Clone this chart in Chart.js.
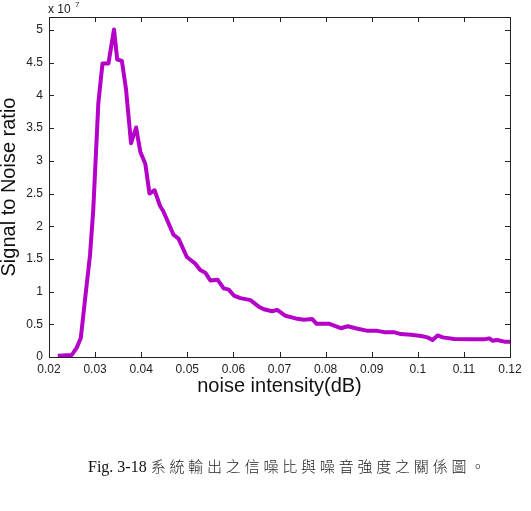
<!DOCTYPE html>
<html>
<head>
<meta charset="utf-8">
<script src="https://cdn.jsdelivr.net/npm/chart.js@4.4.1/dist/chart.umd.min.js"></script>
<style>
  html, body { margin: 0; padding: 0; background: #ffffff; }
  #wrap { position: relative; width: 531px; height: 511px; }
  #c { position: absolute; left: 0; top: 0; }
  #caption { position: absolute; left: 88px; top: 455px;
             font-family: "Liberation Serif", "Noto Sans CJK TC", serif; font-size: 16px; color: #111; white-space: nowrap; }
  #caption .cjk { font-family: "Noto Sans CJK TC", sans-serif; font-size: 15px; letter-spacing: 3.8px; font-weight: 300; color: #222; }
</style>
</head>
<body>
<div id="wrap">
  <canvas id="c" width="531" height="511"></canvas>
  <div id="caption">Fig. 3-18 <span class="cjk">系統輸出之信噪比與噪音強度之關係圖。</span></div>
</div>
<script>
// noise intensity (dB)
const noiseIntensity = [0.0219, 0.0249, 0.0260, 0.0269, 0.0278, 0.0289, 0.0296, 0.0307, 0.0316, 0.0329,
  0.0341, 0.0348, 0.0358, 0.0367, 0.0378, 0.0389, 0.0398, 0.0409, 0.0418, 0.0429,
  0.0441, 0.0448, 0.0470, 0.0481, 0.0499, 0.0517, 0.0528, 0.0539, 0.0550, 0.0566,
  0.0579, 0.0590, 0.0601, 0.0615, 0.0637, 0.0655, 0.0666, 0.0684, 0.0695, 0.0713,
  0.0735, 0.0753, 0.0771, 0.0780, 0.0807, 0.0833, 0.0848, 0.0865, 0.0891, 0.0912,
  0.0927, 0.0948, 0.0963, 0.0985, 0.1007, 0.1021, 0.1032, 0.1043, 0.1054, 0.1079,
  0.1115, 0.1144, 0.1155, 0.1162, 0.1172, 0.1188, 0.1200];
// signal to noise ratio (x 10^7)
const snr = [0.02, 0.03, 0.14, 0.29, 0.87, 1.56, 2.25, 3.88, 4.49, 4.49,
  5.01, 4.55, 4.53, 4.10, 3.27, 3.51, 3.14, 2.95, 2.50, 2.55,
  2.31, 2.23, 1.87, 1.81, 1.53, 1.43, 1.33, 1.29, 1.17, 1.18,
  1.05, 1.03, 0.94, 0.90, 0.87, 0.77, 0.73, 0.70, 0.72, 0.63,
  0.59, 0.57, 0.58, 0.51, 0.51, 0.44, 0.47, 0.44, 0.40, 0.40,
  0.38, 0.38, 0.35, 0.34, 0.32, 0.30, 0.26, 0.33, 0.30, 0.275,
  0.27, 0.27, 0.285, 0.25, 0.26, 0.235, 0.235];
const xTicks = [0.02, 0.03, 0.04, 0.05, 0.06, 0.07, 0.08, 0.09, 0.1, 0.11, 0.12];
const yTicks = [0, 0.5, 1, 1.5, 2, 2.5, 3, 3.5, 4, 4.5, 5];
const yExponent = '7';

const points = noiseIntensity.map((x, i) => ({ x: x, y: snr[i] }));

const boxPlugin = {
  id: 'matlabBox',
  afterDraw(chart) {
    const ctx = chart.ctx;
    const a = chart.chartArea;
    const xs = chart.scales.x, ys = chart.scales.y;
    ctx.save();
    ctx.strokeStyle = '#222';
    ctx.lineWidth = 1;
    ctx.strokeRect(Math.round(a.left) + 0.5, Math.round(a.top) + 0.5, Math.round(a.right - a.left), Math.round(a.bottom - a.top));
    const tl = 5;
    ctx.beginPath();
    xTicks.forEach(v => {
      const px = Math.round(xs.getPixelForValue(v)) + 0.5;
      ctx.moveTo(px, a.bottom); ctx.lineTo(px, a.bottom - tl);
      ctx.moveTo(px, a.top); ctx.lineTo(px, a.top + tl);
    });
    yTicks.forEach(v => {
      const py = Math.round(ys.getPixelForValue(v)) + 0.5;
      ctx.moveTo(a.left, py); ctx.lineTo(a.left + tl, py);
      ctx.moveTo(a.right, py); ctx.lineTo(a.right - tl, py);
    });
    ctx.stroke();
    // exponent label
    ctx.fillStyle = '#222';
    ctx.font = '12px "Liberation Sans", Arial, sans-serif';
    ctx.textBaseline = 'alphabetic';
    ctx.textAlign = 'left';
    ctx.fillText('x 10', 48, 13);
    ctx.font = '8px "Liberation Sans", Arial, sans-serif';
    ctx.fillText(yExponent, 75, 7);
    ctx.restore();
  }
};

new Chart(document.getElementById('c'), {
  type: 'line',
  data: {
    datasets: [{
      data: points,
      borderColor: '#B400C8',
      borderWidth: 4,
      borderJoinStyle: 'round',
      pointRadius: 0,
      tension: 0,
      fill: false
    }]
  },
  options: {
    responsive: false,
    animation: false,
    devicePixelRatio: 1,
    layout: { padding: { left: -3, top: 17, right: 21, bottom: 113 } },
    plugins: { legend: { display: false }, tooltip: { enabled: false } },
    scales: {
      x: {
        type: 'linear',
        min: 0.02, max: 0.12,
        afterBuildTicks: s => { s.ticks = xTicks.map(v => ({ value: v })); },
        afterFit: s => { s.height = 41; },
        grid: { display: false, drawTicks: false },
        border: { display: false },
        ticks: {
          padding: 5,
          color: '#222',
          font: { family: '"Liberation Sans", Arial, sans-serif', size: 12 },
          maxRotation: 0,
          autoSkip: false,
          callback: v => String(Number(v.toFixed(2)))
        },
        title: {
          display: true,
          text: 'noise intensity(dB)',
          color: '#111',
          font: { family: '"Liberation Sans", Arial, sans-serif', size: 20 },
          padding: { top: 0, bottom: 0 }
        }
      },
      y: {
        type: 'linear',
        min: 0, max: 5.2,
        afterBuildTicks: s => { s.ticks = yTicks.map(v => ({ value: v })); },
        afterFit: s => { s.width = 52; },
        grid: { display: false, drawTicks: false },
        border: { display: false },
        ticks: {
          padding: 6,
          color: '#222',
          font: { family: '"Liberation Sans", Arial, sans-serif', size: 12 },
          autoSkip: false,
          callback: v => String(v)
        },
        title: {
          display: true,
          text: 'Signal to Noise ratio',
          color: '#111',
          font: { family: '"Liberation Sans", Arial, sans-serif', size: 20 },
          padding: { top: 0, bottom: 0 }
        }
      }
    }
  },
  plugins: [boxPlugin]
});
</script>
</body>
</html>
